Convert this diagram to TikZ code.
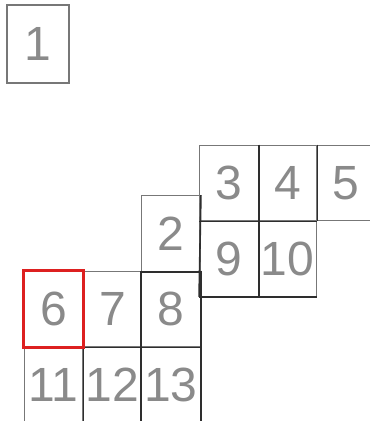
\documentclass[tikz,border=0pt]{standalone}
\usepackage{fontspec}
\setmainfont{Liberation Sans}
\definecolor{boxgray}{HTML}{8A8A8A}
\definecolor{linegray}{HTML}{777777}
\definecolor{linedark}{HTML}{2E2E2E}
\definecolor{selred}{HTML}{DD2020}
\tikzset{
  cell/.style={draw=linegray, line width=1.4pt, minimum width=58.5pt, minimum height=75.5pt,
    inner sep=0pt, text=boxgray, font=\fontsize{48}{48}\selectfont},
  darkline/.style={draw=linedark, line width=1.6pt},
  selbox/.style={draw=selred, line width=3.8pt}
}
\begin{document}
\begin{tikzpicture}[x=1pt, y=-1pt]
\useasboundingbox (0,0) rectangle (370,421);
\fill[white] (0,0) rectangle (370,421);
% single box
\node[cell, minimum width=62pt, minimum height=78pt] (n1) at (38,44) {1};
% top rows
\node[cell] (n3) at (229,183) {3};
\node[cell] (n4) at (287.5,183) {4};
\node[cell] (n5) at (346,183) {5};
\node[cell] (n9) at (229,258.5) {9};
\node[cell] (n10) at (287.5,258.5) {10};
\node[cell] (n2) at (171,233.5) {2};
% lower rows
\node[cell] (n6) at (53.5,309) {6};
\node[cell] (n7) at (112.5,309) {7};
\node[cell] (n8) at (171,309) {8};
\node[cell] (n11) at (53.5,385) {11};
\node[cell] (n12) at (112.5,385) {12};
\node[cell] (n13) at (171,385) {13};
% darker separating lines
\draw[darkline] (n3.north east) -- (n9.south east);
\draw[darkline] (n3.south west) -- (n4.south east);
\draw[darkline] (n4.north east) -- (n4.south east);
\draw[darkline] (n2.north east) -- (n9.south west);
\draw[darkline] (n9.south west) -- (n10.south east);
\draw[darkline] (n2.south west) -- (n2.south east);
\draw[darkline] (n8.north west) -- (n13.south west);
\draw[darkline] (n8.north east) -- (n13.south east);
\draw[darkline] (n6.south west) -- (n8.south east);
\draw[darkline] (n11.north east) -- (n11.south east);
% selected cell
\draw[selbox] (n6.south west) rectangle (n6.north east);
\end{tikzpicture}
\end{document}
